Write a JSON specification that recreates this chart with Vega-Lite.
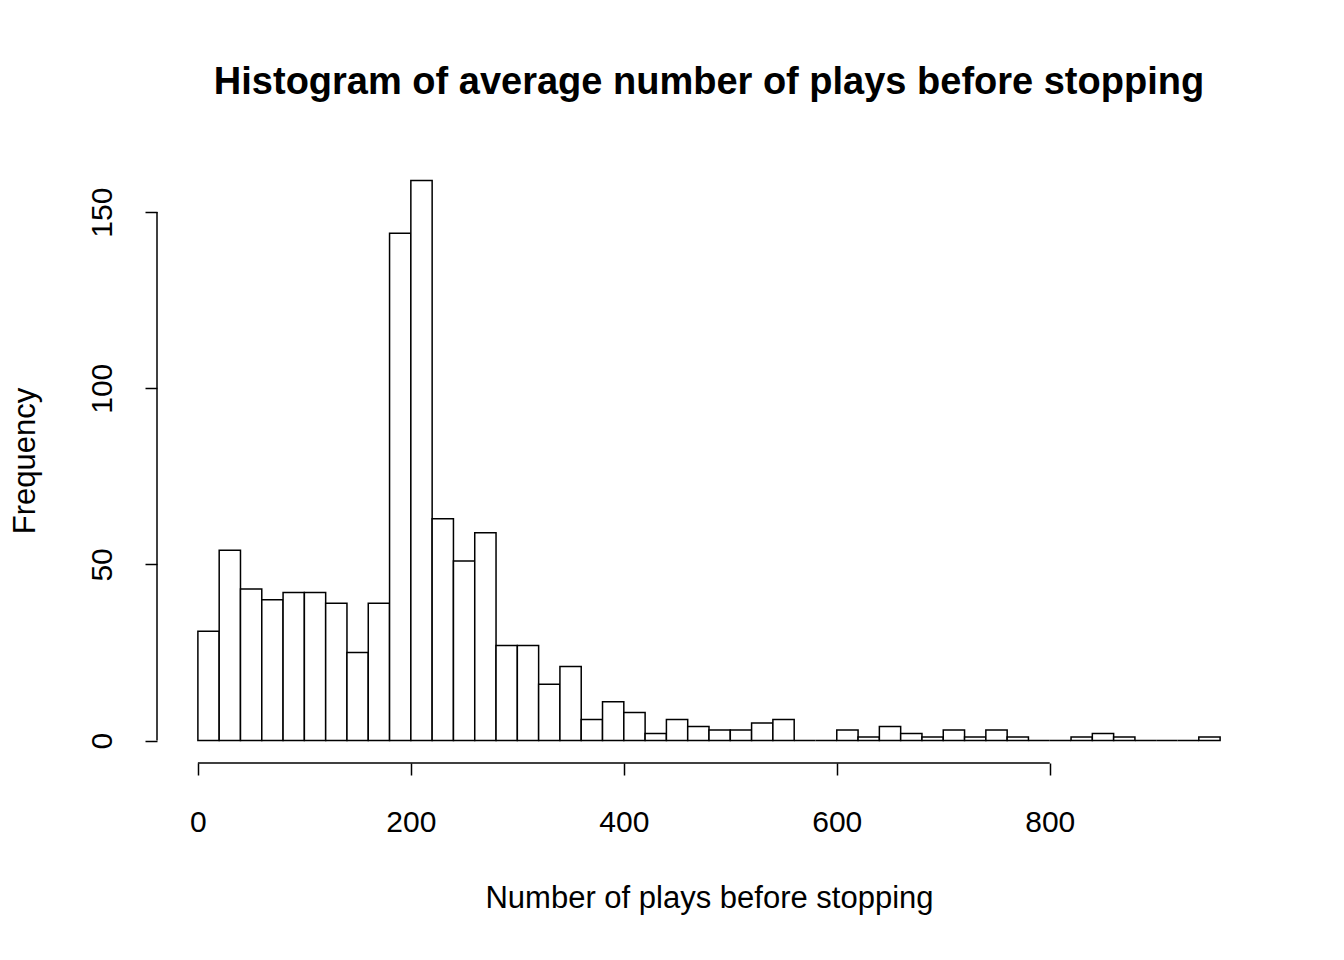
{
"$schema":"https://vega.github.io/schema/vega-lite/v6.json",
"width":1104,"height":605,
"autosize":{"type":"none"},
"padding":{"left":157,"top":158,"right":83,"bottom":197},
"background":"white",
"config":{"view":{"stroke":null},"font":"Liberation Sans"},
"title":{"text":"Histogram of average number of plays before stopping","fontSize":38,"fontWeight":"bold","font":"Liberation Sans","offset":56,"color":"black"},
"datasets":{
"bins":[
{"b0":0,"b1":20,"n":31},{"b0":20,"b1":40,"n":54},{"b0":40,"b1":60,"n":43},{"b0":60,"b1":80,"n":40},{"b0":80,"b1":100,"n":42},{"b0":100,"b1":120,"n":42},{"b0":120,"b1":140,"n":39},{"b0":140,"b1":160,"n":25},{"b0":160,"b1":180,"n":39},{"b0":180,"b1":200,"n":144},{"b0":200,"b1":220,"n":159},{"b0":220,"b1":240,"n":63},{"b0":240,"b1":260,"n":51},{"b0":260,"b1":280,"n":59},{"b0":280,"b1":300,"n":27},{"b0":300,"b1":320,"n":27},{"b0":320,"b1":340,"n":16},{"b0":340,"b1":360,"n":21},{"b0":360,"b1":380,"n":6},{"b0":380,"b1":400,"n":11},{"b0":400,"b1":420,"n":8},{"b0":420,"b1":440,"n":2},{"b0":440,"b1":460,"n":6},{"b0":460,"b1":480,"n":4},{"b0":480,"b1":500,"n":3},{"b0":500,"b1":520,"n":3},{"b0":520,"b1":540,"n":5},{"b0":540,"b1":560,"n":6},{"b0":560,"b1":580,"n":0},{"b0":580,"b1":600,"n":0},{"b0":600,"b1":620,"n":3},{"b0":620,"b1":640,"n":1},{"b0":640,"b1":660,"n":4},{"b0":660,"b1":680,"n":2},{"b0":680,"b1":700,"n":1},{"b0":700,"b1":720,"n":3},{"b0":720,"b1":740,"n":1},{"b0":740,"b1":760,"n":3},{"b0":760,"b1":780,"n":1},{"b0":780,"b1":800,"n":0},{"b0":800,"b1":820,"n":0},{"b0":820,"b1":840,"n":1},{"b0":840,"b1":860,"n":2},{"b0":860,"b1":880,"n":1},{"b0":880,"b1":900,"n":0},{"b0":900,"b1":920,"n":0},{"b0":920,"b1":940,"n":0},{"b0":940,"b1":960,"n":1}
],
"xaxis":[{"x0":0,"x1":800,"y":-6.36}],
"yaxis":[{"x":-38.4,"y0":0,"y1":150}]
},
"layer":[
{"data":{"name":"bins"},"mark":{"type":"rect","fill":"white","stroke":"black","strokeWidth":1.5},
"encoding":{
"x":{"field":"b0","type":"quantitative","scale":{"domain":[-38.4,998.4],"nice":false,"zero":false},
"axis":{"values":[0,200,400,600,800],"domain":false,"grid":false,"tickColor":"black","tickWidth":1.5,"tickSize":12,"labelFontSize":30,"labelColor":"black","labelPadding":32,"title":"Number of plays before stopping","titleFontSize":31,"titleFontWeight":"normal","titleColor":"black","titlePadding":46}},
"x2":{"field":"b1"},
"y":{"field":"n","type":"quantitative","scale":{"domain":[-6.36,165.36],"nice":false,"zero":false},
"axis":{"values":[0,50,100,150],"domain":false,"grid":false,"tickColor":"black","tickWidth":1.5,"tickSize":12,"labelFontSize":30,"labelColor":"black","labelAngle":-90,"labelAlign":"center","labelBaseline":"bottom","labelPadding":28,"title":"Frequency","titleFontSize":31,"titleFontWeight":"normal","titleColor":"black","titlePadding":46}},
"y2":{"datum":0}
}},
{"data":{"name":"xaxis"},"mark":{"type":"rule","stroke":"black","strokeWidth":1.5},
"encoding":{"x":{"field":"x0","type":"quantitative"},"x2":{"field":"x1"},"y":{"field":"y","type":"quantitative"}}},
{"data":{"name":"yaxis"},"mark":{"type":"rule","stroke":"black","strokeWidth":1.5},
"encoding":{"x":{"field":"x","type":"quantitative"},"y":{"field":"y0","type":"quantitative"},"y2":{"field":"y1"}}}
]
}
